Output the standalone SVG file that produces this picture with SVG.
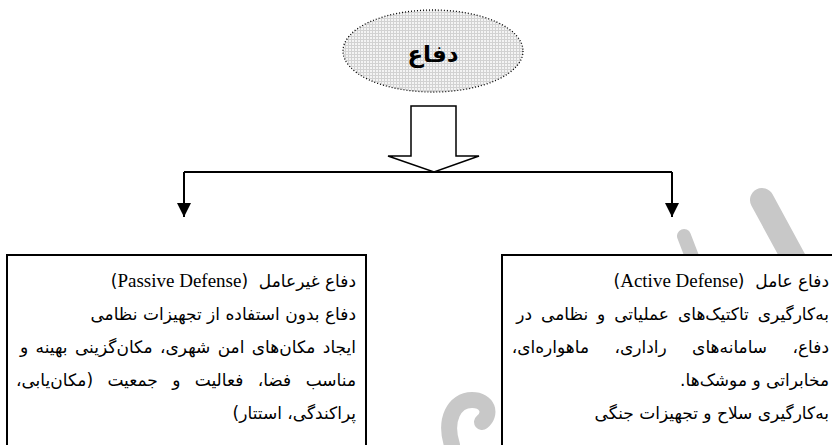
<svg xmlns="http://www.w3.org/2000/svg" width="832" height="445" viewBox="0 0 832 445">
<defs>
<pattern id="hatch" width="3" height="3" patternUnits="userSpaceOnUse">
<rect width="3" height="3" fill="#f4f4f4"/>
<path d="M0 0.5H3M0.5 0V3" stroke="#d2d2d2" stroke-width="1"/>
</pattern>
<marker id="ah" viewBox="0 0 10 10" refX="10" refY="5" markerWidth="14" markerHeight="14" markerUnits="userSpaceOnUse" orient="auto">
<path d="M0 0L10 5L0 10Z" fill="#000"/>
</marker>
</defs>
<style>
.box{fill:#fff;stroke:#000;stroke-width:2}
.t{font-family:"DejaVu Sans",sans-serif;font-size:17px;fill:#000;direction:rtl;unicode-bidi:embed;text-anchor:start;white-space:pre}
.en{font-family:"Liberation Serif",serif;font-size:19px}
.conn{fill:none;stroke:#000;stroke-width:2}
.wm{fill:none;stroke:#c8c8c8;stroke-linecap:round}
</style>
<rect width="832" height="445" fill="#fff"/>
<g id="watermark">
<path class="wm" d="M762 200L800 270" stroke-width="24"/>
<path class="wm" d="M684 236L694 262" stroke-width="14"/>
<path class="wm" d="M452 445C444 420 454 400 472 400C488 400 492 414 482 422" stroke-width="16"/>
</g>
<g id="root">
<ellipse cx="433" cy="51" rx="90" ry="41" fill="url(#hatch)" stroke="#000" stroke-width="1.3" stroke-dasharray="1 2"/>
<text x="433" y="62" style="font-family:'DejaVu Sans',serif;font-size:23px;font-weight:bold;text-anchor:middle">دفاع</text>
</g>
<g id="connectors">
<polygon points="411,106 456,106 456,156 479,156 434,172 388,156 411,156" fill="#fff" stroke="#000" stroke-width="1.5"/>
<path class="conn" d="M184 172H672"/>
<path class="conn" d="M184 172V217" marker-end="url(#ah)"/>
<path class="conn" d="M672 172V217" marker-end="url(#ah)"/>
</g>
<g id="passive">
<rect class="box" x="7" y="255" width="359" height="210"/>
<text class="t" x="356" y="287">دفاع غیرعامل  (<tspan class="en">Passive Defense</tspan>)</text>
<text class="t" x="356" y="320">دفاع بدون استفاده از تجهیزات نظامی</text>
<text class="t" x="356" y="353" word-spacing="2">ایجاد مکان‌های امن شهری، مکان‌گزینی بهینه و</text>
<text class="t" x="356" y="386" word-spacing="9">مناسب فضا، فعالیت و جمعیت (مکان‌یابی،</text>
<text class="t" x="356" y="419">پراکندگی، استتار)</text>
</g>
<g id="active">
<rect class="box" x="502" y="255" width="360" height="210"/>
<text class="t" x="829" y="287">دفاع عامل  (<tspan class="en">Active Defense</tspan>)</text>
<text class="t" x="829" y="320" word-spacing="3.5">به‌کارگیری تاکتیک‌های عملیاتی و نظامی در</text>
<text class="t" x="829" y="353" word-spacing="20">دفاع، سامانه‌های راداری، ماهواره‌ای،</text>
<text class="t" x="829" y="386">مخابراتی و موشک‌ها.</text>
<text class="t" x="829" y="419">به‌کارگیری سلاح و تجهیزات جنگی</text>
</g>
</svg>
